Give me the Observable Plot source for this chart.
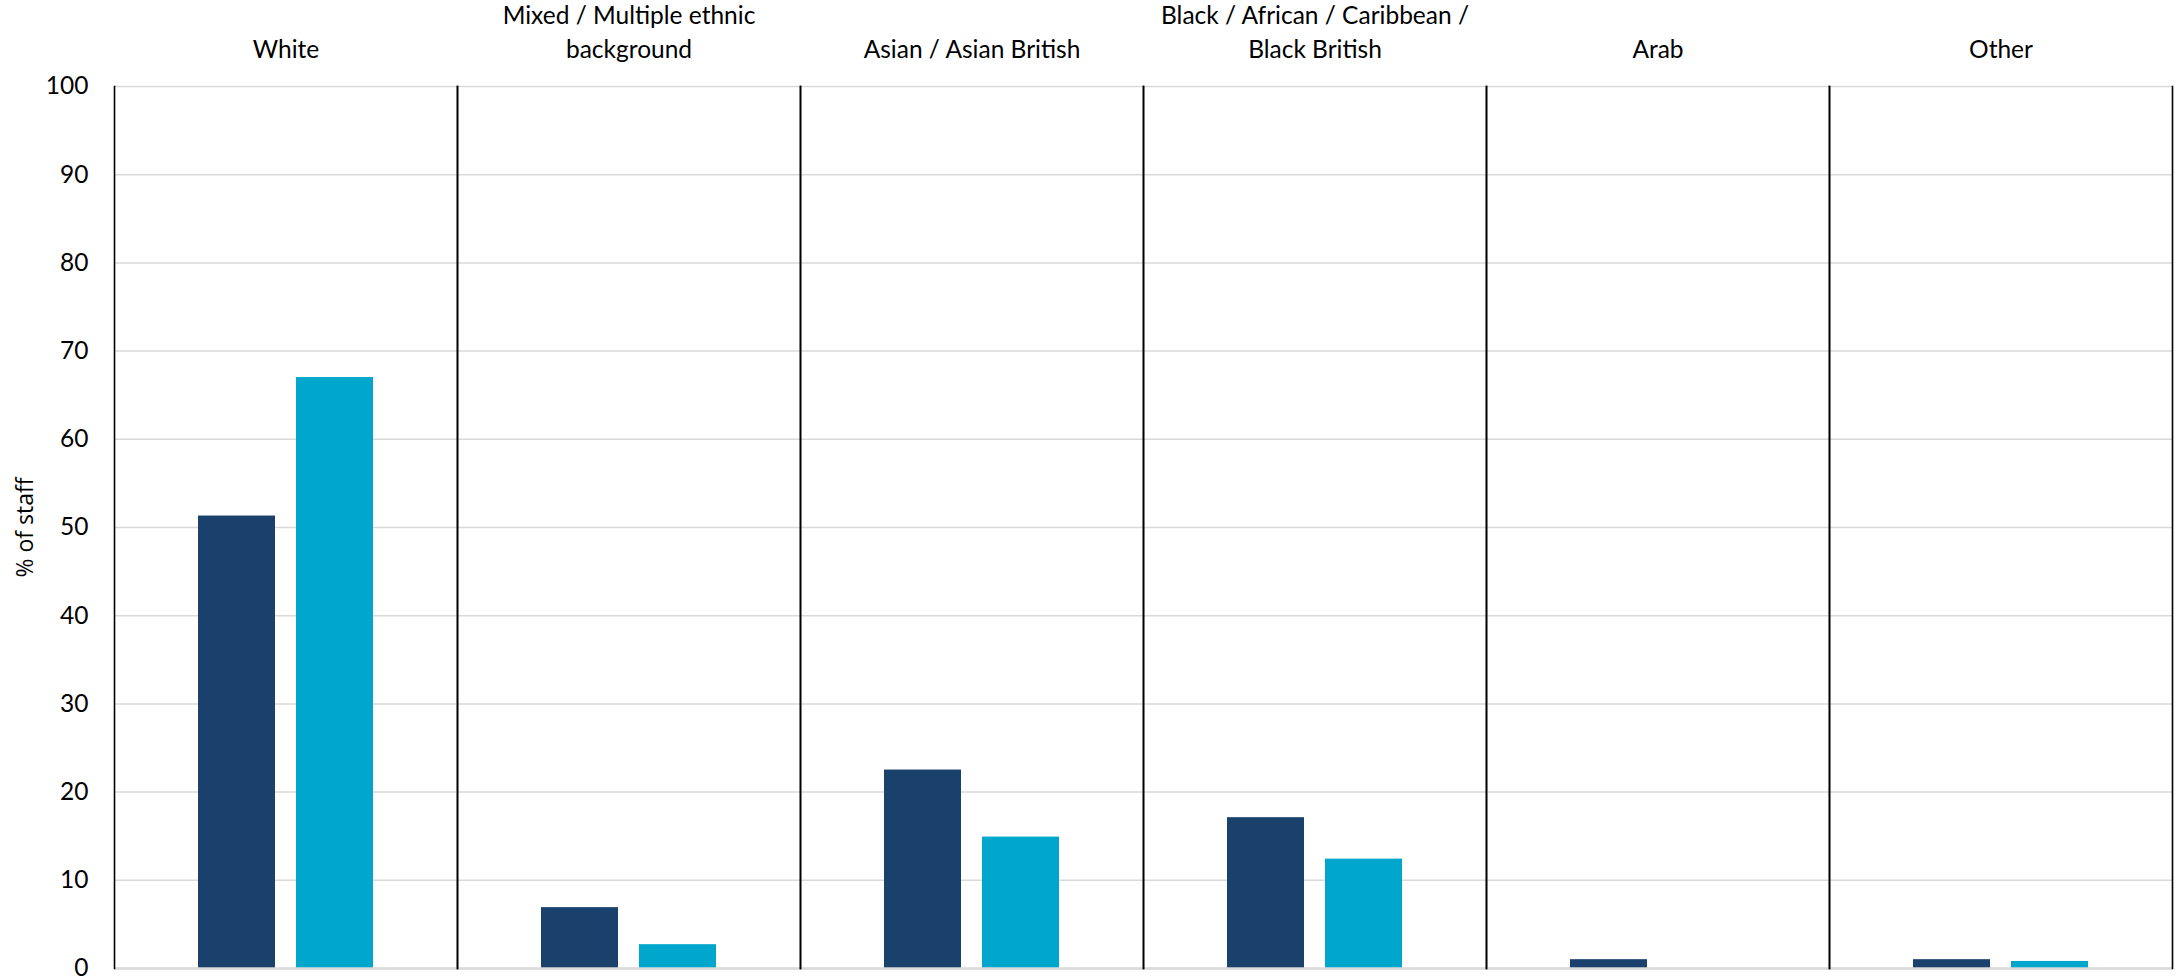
<!DOCTYPE html>
<html>
<head>
<meta charset="utf-8">
<script src="https://cdn.jsdelivr.net/npm/d3@7"></script>
<script src="https://cdn.jsdelivr.net/npm/@observablehq/plot@0.6"></script>
<style>
  html, body { margin: 0; padding: 0; background: #fff; }
  #chart { width: 2178px; height: 980px; }
</style>
</head>
<body>
<div id="chart"></div>
<script>
const categories = ["White", "Mixed / Multiple ethnic background", "Asian / Asian British", "Black / African / Caribbean / Black British", "Arab", "Other"];
const categoryLabels = ["White", "Mixed / Multiple ethnic\nbackground", "Asian / Asian British", "Black / African / Caribbean /\nBlack British", "Arab", "Other"];
const series = ["Staff", "Comparison"];
const staffValues = [51.3, 6.9, 22.5, 17.1, 1.0, 1.0];
const comparisonValues = [67.0, 2.7, 14.9, 12.4, 0, 0.8];
const yTicks = [0, 10, 20, 30, 40, 50, 60, 70, 80, 90, 100];
const yLabel = "% of staff";
const seriesColors = ["#1A406C", "#00A6CC"];

const rows = [];
categories.forEach((c, i) => {
  rows.push({category: c, series: series[0], value: staffValues[i]});
  rows.push({category: c, series: series[1], value: comparisonValues[i]});
});

const chart = Plot.plot({
  width: 2178,
  height: 980,
  marginTop: 86,
  marginBottom: 12,
  marginLeft: 114,
  marginRight: 6,
  style: {fontFamily: "Lato, 'Open Sans', sans-serif", fontSize: "24.5px", color: "#000", background: "#fff"},
  fx: {domain: categories, padding: 0, axis: null},
  x: {domain: series, paddingInner: 0.214, paddingOuter: 0.857, axis: null},
  y: {domain: [0, 100], axis: null},
  color: {domain: series, range: seriesColors},
  marks: [
    Plot.gridY(yTicks, {stroke: "#d9d9d9", strokeOpacity: 1, strokeWidth: 1.5}),
    Plot.barY(rows, {fx: "category", x: "series", y: "value", fill: "series"}),
    Plot.ruleY([0], {stroke: "#d9d9d9", strokeWidth: 2.5}),
    Plot.frame({anchor: "left", stroke: "#000", strokeWidth: 1.6}),
    Plot.frame({anchor: "right", stroke: "#000", strokeWidth: 1.6}),
    Plot.axisY(yTicks, {tickSize: 0, tickPadding: 26, fontSize: 24.5, label: null}),
    Plot.text([yLabel], {
      fx: [categories[0]],
      text: d => d,
      frameAnchor: "left",
      textAnchor: "middle",
      rotate: -90,
      dx: -89,
      fontSize: 23,
      fontFamily: "'Open Sans', sans-serif",
      fill: "#000"
    }),
    Plot.text(categories, {
      fx: d => d,
      text: (d, i) => categoryLabels[i],
      frameAnchor: "top",
      dy: -29,
      lineAnchor: "bottom",
      lineHeight: 1.35,
      fontSize: 24.5,
      fill: "#000"
    })
  ]
});
document.getElementById("chart").appendChild(chart);
</script>
</body>
</html>
